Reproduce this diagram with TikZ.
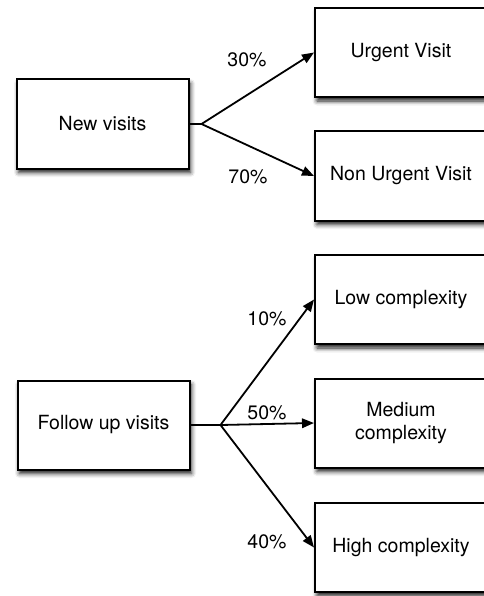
\documentclass[tikz,border=0pt]{standalone}
\usepackage{fontspec}
\setmainfont{TeX Gyre Heros}
\usetikzlibrary{arrows.meta,shadows.blur}

\tikzset{
  visit/.style={draw, line width=2pt, fill=white, minimum width=172pt,
    minimum height=89pt, align=center, inner sep=0pt,
    font=\fontsize{19.5}{23}\selectfont,
    blur shadow={shadow xshift=2pt, shadow yshift=-4pt,
      shadow blur radius=4.5pt, shadow opacity=90}},
  share/.style={font=\fontsize{19.5}{23}\selectfont},
  flow/.style={line width=1.8pt, -{Triangle[length=12pt,width=9.5pt]}}
}

\begin{document}
\begin{tikzpicture}[x=1pt,y=-1pt]
\useasboundingbox (0,0) rectangle (483,596);
% new visits
\node[visit] (new) at (102.5,124) {New visits};
\node[visit] (urgent) at (401,52.5) {Urgent Visit};
\node[visit] (nonurgent) at (401,176) {Non Urgent Visit};
\coordinate (newsplit) at ([xshift=12pt]new.east);
\draw[line width=1.8pt] (new.east) -- (newsplit);
\draw[flow] (newsplit) -- (urgent.west);
\draw[flow] (newsplit) -- (nonurgent.west);
\node[share] (p30) at (247,60) {30\%};
\node[share] (p70) at (248,177) {70\%};
% follow up visits
\node[visit] (follow) at (103.5,425) {Follow up visits};
\node[visit] (low) at (401,299.5) {Low complexity};
\node[visit] (medium) at (401,423) {Medium\\complexity};
\node[visit] (high) at (401,547.5) {High complexity};
\coordinate (followsplit) at ([xshift=30pt]follow.east);
\draw[line width=1.8pt] (follow.east) -- (followsplit);
\draw[flow] (followsplit) -- (low.west);
\draw[flow] (followsplit) -- (medium.west);
\draw[flow] (followsplit) -- (high.west);
\node[share] (p10) at (267,319) {10\%};
\node[share] (p50) at (267,413) {50\%};
\node[share] (p40) at (267,542) {40\%};
\end{tikzpicture}
\end{document}
